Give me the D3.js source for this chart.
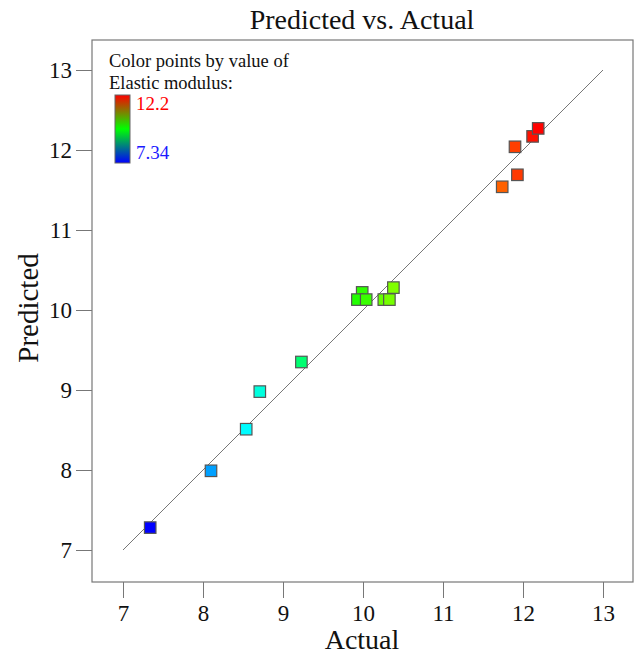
<!DOCTYPE html>
<html><head><meta charset="utf-8">
<script src="https://cdn.jsdelivr.net/npm/d3@7"></script>
<style>body{margin:0;background:#fff}svg{display:block}text{font-family:"Liberation Serif","Times New Roman",serif}</style>
</head><body><svg id="c" width="636" height="654"></svg>
<script>
const actual    = [7.34, 8.10, 8.54, 8.71, 9.23, 9.99, 9.93, 10.04, 10.26, 10.33, 10.38, 11.74, 11.93, 11.90, 12.12, 12.19];
const predicted = [7.28, 7.99, 8.51, 8.98, 9.35, 10.22, 10.13, 10.13, 10.13, 10.13, 10.28, 11.54, 11.69, 12.04, 12.17, 12.27];
const xTicks = [7, 8, 9, 10, 11, 12, 13];
const yTicks = [7, 8, 9, 10, 11, 12, 13];
const colorMin = 7.34, colorMax = 12.2;
const legendLabels = ["12.2", "7.34"];

const svg = d3.select("#c");
const L = 92, R = 633, T = 40, B = 582;
const x = d3.scaleLinear().domain([6.6125, 13.375]).range([L, R]);
const y = d3.scaleLinear().domain([6.6, 13.375]).range([B, T]);
const hue = d3.scaleLinear().domain([colorMin, colorMax]).range([240, 0]).clamp(true);
const col = v => d3.hsl(hue(v), 1, 0.5).toString();

// frame
svg.append("rect").attr("x", L).attr("y", T).attr("width", R - L).attr("height", B - T)
  .attr("fill", "none").attr("stroke", "#777").attr("stroke-width", 1.2);

// axes
const xa = svg.append("g").attr("transform", `translate(0,${B})`)
  .call(d3.axisBottom(x).tickValues(xTicks).tickSize(16).tickPadding(7).tickFormat(d3.format("d")));
const ya = svg.append("g").attr("transform", `translate(${L},0)`)
  .call(d3.axisLeft(y).tickValues(yTicks).tickSize(16).tickPadding(4).tickFormat(d3.format("d")));
[xa, ya].forEach(g => {
  g.attr("font-size", null).attr("font-family", null);
  g.select(".domain").remove();
  g.selectAll("line").attr("stroke", "#777");
  g.selectAll("text").style("font-size", "23px").attr("fill", "#111");
});

// titles
svg.append("text").attr("x", 362).attr("y", 29).attr("text-anchor", "middle")
  .style("font-size", "28px").attr("fill", "#111").text("Predicted vs. Actual");
svg.append("text").attr("x", 362).attr("y", 649).attr("text-anchor", "middle")
  .style("font-size", "28px").attr("fill", "#111").text("Actual");
svg.append("text").attr("transform", "translate(38,308) rotate(-90)").attr("text-anchor", "middle")
  .style("font-size", "29px").attr("fill", "#111").text("Predicted");

// diagonal
svg.append("line").attr("x1", x(7)).attr("y1", y(7)).attr("x2", x(13)).attr("y2", y(13))
  .attr("stroke", "#777").attr("stroke-width", 1);

// points
const s = 11.5;
const pts = actual.map((a, i) => ({a, p: predicted[i]}));
svg.append("g").selectAll("rect").data(pts).join("rect")
  .attr("x", d => x(d.a) - s / 2).attr("y", d => y(d.p) - s / 2)
  .attr("width", s).attr("height", s)
  .attr("fill", d => col(d.a)).attr("stroke", "#555").attr("stroke-width", 1.2);

// legend
svg.append("text").attr("x", 109).attr("y", 67).style("font-size", "18.5px").attr("fill", "#111").text("Color points by value of");
svg.append("text").attr("x", 109).attr("y", 89).style("font-size", "18.5px").attr("fill", "#111").text("Elastic modulus:");
const grad = svg.append("defs").append("linearGradient").attr("id", "lg")
  .attr("x1", 0).attr("y1", 0).attr("x2", 0).attr("y2", 1);
[["0%", "#ff0000"], ["50%", "#00ff00"], ["100%", "#0000ff"]].forEach(([o, c]) =>
  grad.append("stop").attr("offset", o).attr("stop-color", c));
svg.append("rect").attr("x", 115).attr("y", 95).attr("width", 15).attr("height", 68)
  .attr("fill", "url(#lg)").attr("stroke", "#666").attr("stroke-width", 1);
svg.append("text").attr("x", 136).attr("y", 110).style("font-size", "19px").attr("fill", "#ff0000").text(legendLabels[0]);
svg.append("text").attr("x", 136).attr("y", 159).style("font-size", "19px").attr("fill", "#1a1aff").text(legendLabels[1]);
</script></body></html>
